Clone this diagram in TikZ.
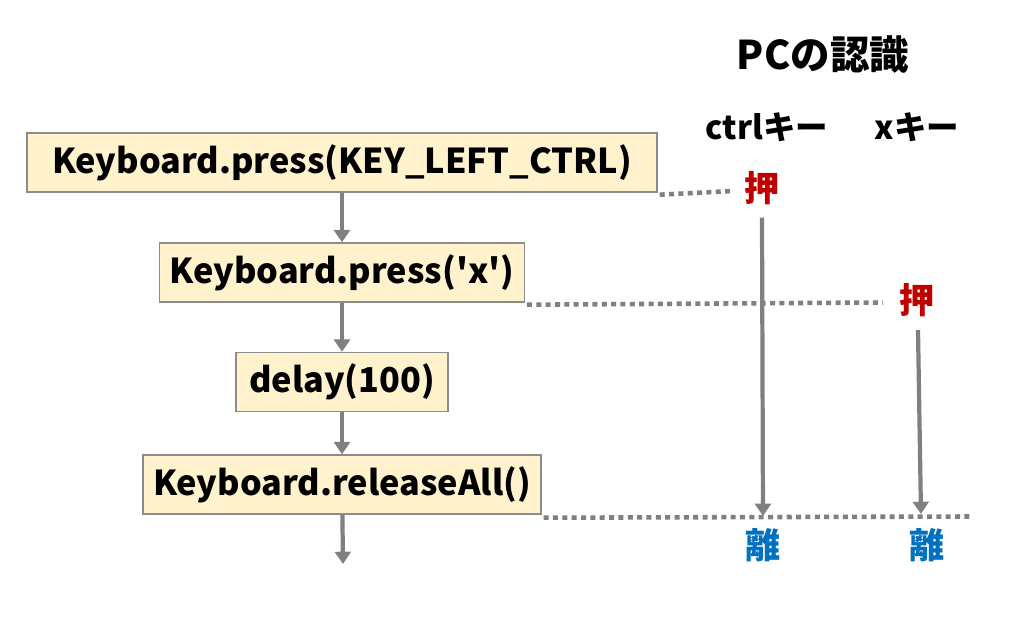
\documentclass[tikz,border=0pt]{standalone}
\usepackage{fontspec}
\setmainfont{Noto Sans CJK JP}
\usepackage{tikz}
\usetikzlibrary{arrows.meta,positioning}
\definecolor{boxfill}{HTML}{FFF2CC}
\definecolor{boxline}{HTML}{8C8C8C}
\definecolor{flowgray}{HTML}{808080}
\definecolor{pushred}{HTML}{C00000}
\definecolor{relblue}{HTML}{0070C0}

\begin{document}
\begin{tikzpicture}[node distance=2.2cm,
  step box/.style={draw=boxline,line width=0.8pt,fill=boxfill,minimum height=1.18cm,inner xsep=0.2cm,align=center,font=\fontsize{19.5}{22}\selectfont\bfseries},
  flow/.style={-{Triangle[width=9pt,length=7pt]},line width=2.4pt,flowgray},
  dotline/.style={flowgray,line width=2.6pt,dash pattern=on 0.1cm off 0.087cm},
  keytext/.style={font=\fontsize{18.5}{22}\selectfont\bfseries},
  push/.style={font=\fontsize{20}{22}\selectfont\bfseries,text=pushred,inner sep=0pt},
  release/.style={font=\fontsize{20}{22}\selectfont\bfseries,text=relblue,inner sep=0pt}]
  \useasboundingbox (0,0) rectangle (20.48,-12.36);
  \node[step box, minimum width=12.6cm] (press1) at (6.84,-3.25) {Keyboard.press(KEY\_LEFT\_CTRL)};
  \node[step box, minimum width=7.14cm] (press2) [below of=press1] {Keyboard.press(\textquotesingle x\textquotesingle)};
  \node[step box, minimum width=4.24cm] (wait) [below of=press2, yshift=0.01cm] {delay(100)};
  \node[step box, minimum width=7.92cm] (relall) [below of=wait, yshift=0.15cm] {Keyboard.releaseAll()};
  \coordinate (flowend) at (6.86,-11.28);
  \draw[flow] (press1) -- (press2);
  \draw[flow] (press2) -- (wait);
  \draw[flow] (wait) -- (relall);
  \draw[flow] (relall) -- (flowend);
  % PC side
  \node[font=\fontsize{22.5}{26}\selectfont\bfseries] (title) at (16.46,-1.1) {PCの認識};
  \node[keytext] (ctrlkey) at (15.34,-2.54) {ctrlキー};
  \node[keytext] (xkey) at (18.34,-2.54) {xキー};
  \node[push] (push1) at (15.24,-3.76) {押};
  \node[push] (push2) at (18.34,-6.0) {押};
  \node[release] (rel1) at (15.26,-10.9) {離};
  \node[release] (rel2) at (18.54,-10.9) {離};
  \coordinate (dot1) at (14.66,-3.82);
  \coordinate (dot2) at (17.66,-6.05);
  \coordinate (dot3) at (19.42,-10.33);
  \coordinate (ctrlend) at (15.26,-10.32);
  \coordinate (xstart) at (18.36,-6.6);
  \coordinate (xend) at (18.42,-10.28);
  \draw[dotline] (press1.south east) ++(0.04,-0.04) -- (dot1);
  \draw[dotline] (press2.south east) ++(0.04,-0.04) -- (dot2);
  \draw[dotline] (relall.south east) ++(0.04,-0.06) -- (dot3);
  \draw[flow] (push1.south) ++(0,-0.25) -- (ctrlend);
  \draw[flow] (xstart) -- (xend);
\end{tikzpicture}
\end{document}
